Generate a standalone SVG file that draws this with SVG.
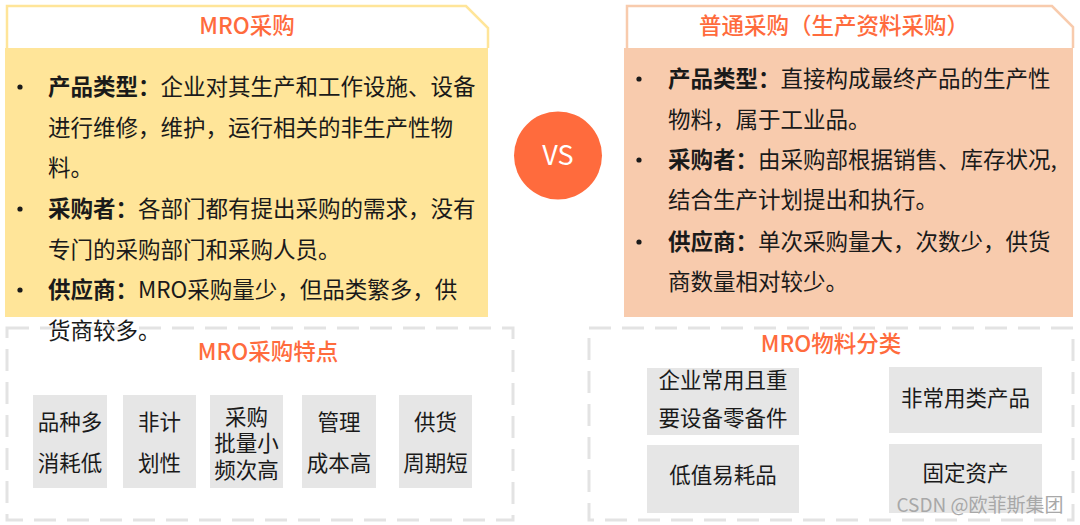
<svg xmlns="http://www.w3.org/2000/svg" width="1080" height="525" viewBox="0 0 1080 525">
<style>
text{font-family:"Noto Sans CJK SC","Noto Sans",sans-serif;}
.body{font-size:22.5px;fill:#1a1a1a;}
.b{font-weight:bold;}
.title{font-size:22.5px;font-weight:500;fill:#FF6B3D;text-anchor:middle;}
.cell{font-size:21.5px;fill:#1a1a1a;text-anchor:middle;}
.gbox{fill:#E6E6E6;}
.dash{fill:none;stroke:#E3E3E3;stroke-width:3;stroke-dasharray:22 11;}
</style>
<rect width="1080" height="525" fill="#fff"/>
<g id="mro-panel">
  <path d="M7,48 V6 H466 L488,28 V48" fill="#fff" stroke="#FFE599" stroke-width="2.5"/>
  <text class="title" x="247" y="34">MRO采购</text>
  <rect x="5" y="48" width="483" height="269" fill="#FFE599"/>
  <g class="body">
    <circle cx="20" cy="87" r="2.6" fill="#1a1a1a"/>
    <circle cx="20" cy="209" r="2.6" fill="#1a1a1a"/>
    <circle cx="20" cy="290" r="2.6" fill="#1a1a1a"/>
    <text x="48" y="95"><tspan class="b">产品类型：</tspan>企业对其生产和工作设施、设备</text>
    <text x="48" y="136">进行维修，维护，运行相关的非生产性物</text>
    <text x="48" y="176">料。</text>
    <text x="48" y="217"><tspan class="b">采购者：</tspan>各部门都有提出采购的需求，没有</text>
    <text x="48" y="258">专门的采购部门和采购人员。</text>
    <text x="48" y="298"><tspan class="b">供应商：</tspan>MRO采购量少，但品类繁多，供</text>
  </g>
</g>
<g id="normal-panel">
  <path d="M627,48 V6 H1052 L1073,27 V48" fill="#fff" stroke="#F8CBAD" stroke-width="2.5"/>
  <text class="title" x="834" y="34">普通采购（生产资料采购）</text>
  <rect x="624" y="48" width="449" height="269" fill="#F8CBAD"/>
  <g class="body">
    <circle cx="639" cy="79" r="2.6" fill="#1a1a1a"/>
    <circle cx="639" cy="160" r="2.6" fill="#1a1a1a"/>
    <circle cx="639" cy="242" r="2.6" fill="#1a1a1a"/>
    <text x="668" y="87"><tspan class="b">产品类型：</tspan>直接构成最终产品的生产性</text>
    <text x="668" y="128">物料，属于工业品。</text>
    <text x="668" y="168"><tspan class="b">采购者：</tspan>由采购部根据销售、库存状况,</text>
    <text x="668" y="208">结合生产计划提出和执行。</text>
    <text x="668" y="250"><tspan class="b">供应商：</tspan>单次采购量大，次数少，供货</text>
    <text x="668" y="290">商数量相对较少。</text>
  </g>
</g>
<g id="vs">
  <circle cx="558" cy="155.5" r="44" fill="#FF6B3D"/>
  <text x="558" y="165" font-size="27" fill="#fff" text-anchor="middle" font-family="Noto Sans, sans-serif">VS</text>
</g>
<g id="mro-features">
  <rect class="dash" x="7" y="328" width="506" height="192"/>
  <text class="title" x="268" y="360">MRO采购特点</text>
  <rect class="gbox" x="33" y="395" width="74" height="93"/>
  <rect class="gbox" x="123" y="395" width="73" height="93"/>
  <rect class="gbox" x="210" y="395" width="73" height="93"/>
  <rect class="gbox" x="302" y="395" width="74" height="93"/>
  <rect class="gbox" x="399" y="395" width="73" height="93"/>
  <text class="cell" x="70" y="430">品种多</text>
  <text class="cell" x="70" y="471">消耗低</text>
  <text class="cell" x="159.5" y="430">非计</text>
  <text class="cell" x="159.5" y="471">划性</text>
  <text class="cell" x="246.5" y="425">采购</text>
  <text class="cell" x="246.5" y="451">批量小</text>
  <text class="cell" x="246.5" y="478">频次高</text>
  <text class="cell" x="339" y="430">管理</text>
  <text class="cell" x="339" y="471">成本高</text>
  <text class="cell" x="435.5" y="430">供货</text>
  <text class="cell" x="435.5" y="471">周期短</text>
</g>
<g id="mro-categories">
  <rect class="dash" x="589" y="328" width="484" height="192"/>
  <text class="title" x="831" y="352">MRO物料分类</text>
  <rect class="gbox" x="647" y="368" width="152" height="67"/>
  <rect class="gbox" x="889" y="367" width="153" height="66"/>
  <rect class="gbox" x="647" y="445" width="152" height="68"/>
  <rect class="gbox" x="889" y="444" width="153" height="69"/>
  <text class="cell" x="723" y="388">企业常用且重</text>
  <text class="cell" x="723" y="426">要设备零备件</text>
  <text class="cell" x="965.5" y="406">非常用类产品</text>
  <text class="cell" x="723" y="483">低值易耗品</text>
  <text class="cell" x="965.5" y="481">固定资产</text>
</g>
<g id="left-overflow">
  <text class="body" x="48" y="339">货商较多。</text>
</g>
<text x="980" y="512" font-size="19" fill="#A8A8A8" text-anchor="middle">CSDN @欧菲斯集团</text>
</svg>
